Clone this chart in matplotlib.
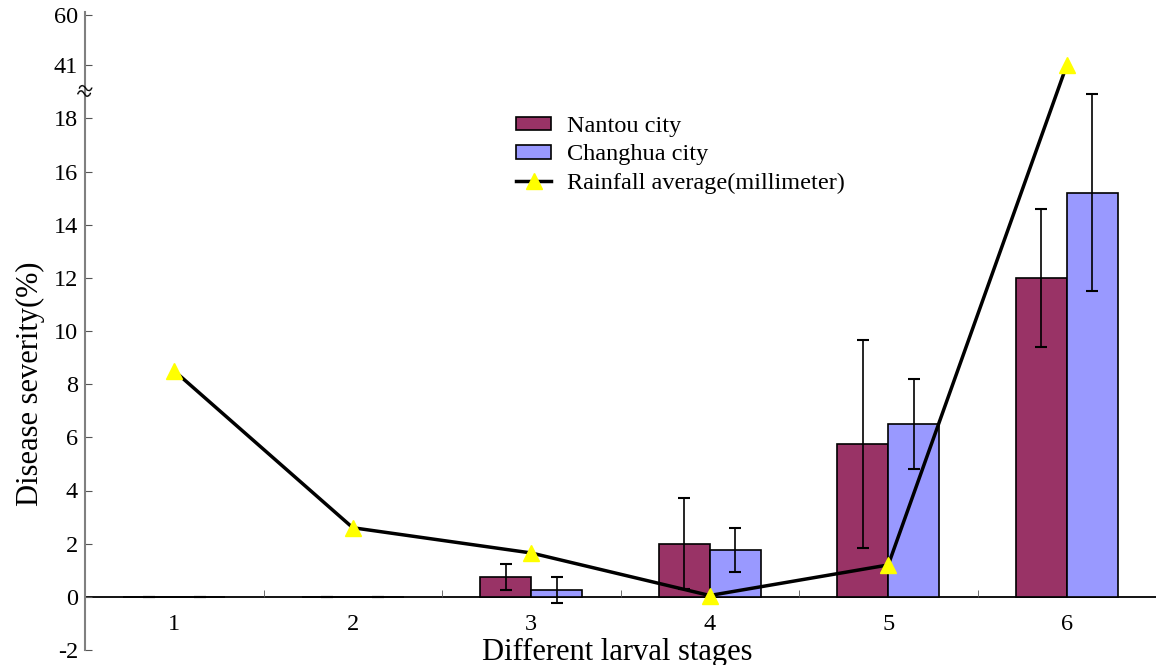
import matplotlib
matplotlib.use("Agg")
import matplotlib.pyplot as plt
import numpy as np

plt.rcParams['font.family'] = ['Liberation Serif', 'DejaVu Serif']

stages = [1, 2, 3, 4, 5, 6]
nantou = [0, 0, 0.75, 2.0, 5.75, 12.0]
nantou_err = [0, 0, 0.5, 1.7, 3.9, 2.6]
changhua = [0, 0, 0.25, 1.75, 6.5, 15.2]
changhua_err = [0, 0, 0.5, 0.83, 1.7, 3.7]
rainfall = [8.5, 2.6, 1.65, 0.05, 1.2, 41]

low_ticks = [-2, 0, 2, 4, 6, 8, 10, 12, 14, 16, 18]
high_ticks = [41, 60]


def broken(v):
    # squeeze values above the break into the top of the axis
    v = np.asarray(v, dtype=float)
    return np.where(v > 19, 20 + (v - 41) * 1.9 / 19, v)


fig = plt.figure(figsize=(11.56, 6.65), dpi=100)
ax = fig.add_axes([85 / 1156, 15 / 665, 1 - 85 / 1156, 638 / 665])

x = np.array(stages)
w = 0.286
ax.bar(x - w / 2, nantou, w, color='#993366', edgecolor='black', linewidth=1.2,
       label='Nantou city', zorder=2)
ax.bar(x + w / 2, changhua, w, color='#9999ff', edgecolor='black', linewidth=1.2,
       label='Changhua city', zorder=2)
ax.errorbar(x - w / 2, nantou, yerr=nantou_err, fmt='none', ecolor='black',
            elinewidth=1.2, capsize=4, capthick=1.5, zorder=3)
ax.errorbar(x + w / 2, changhua, yerr=changhua_err, fmt='none', ecolor='black',
            elinewidth=1.2, capsize=4, capthick=1.5, zorder=3)

ax.plot(x, broken(rainfall), color='black', linewidth=2.5, marker='^',
        markersize=11, markerfacecolor='yellow', markeredgecolor='yellow',
        label='Rainfall average(millimeter)', zorder=4)

ax.set_xlim(0.5, 6.5)
ax.set_ylim(-2, 22)

ax.set_xticks(stages)
ax.set_xticks([1.5, 2.5, 3.5, 4.5, 5.5], minor=True)
ax.tick_params(axis='x', which='major', length=0, pad=12, labelsize=17.5)
ax.tick_params(axis='x', which='minor', direction='in', length=5, color='#555555')

yt = list(low_ticks) + list(broken(high_ticks))
ax.set_yticks(yt)
ax.set_yticklabels([str(t) for t in low_ticks] + [str(t) for t in high_ticks])
ax.tick_params(axis='y', direction='in', length=5, labelsize=17.5, pad=5,
               color='#555555')

for s in ['top', 'right']:
    ax.spines[s].set_visible(False)
ax.spines['left'].set_color('#808080')
ax.spines['left'].set_linewidth(1.5)
ax.spines['bottom'].set_position(('data', 0))
ax.spines['bottom'].set_linewidth(1.3)
ax.spines['bottom'].set_zorder(1)

# break mark on the y axis
ax.text(0.49, 18.95, '≈', fontsize=20, ha='center', va='center', rotation=-15,
        clip_on=False, zorder=5)

ax.set_xlabel('Different larval stages', fontsize=22)
ax.xaxis.set_label_coords(0.497, 0.019)
ax.set_ylabel('Disease severity(%)', fontsize=22)
ax.yaxis.set_label_coords(-0.037, 0.418)

handles, labels = ax.get_legend_handles_labels()
order = [1, 2, 0]
ax.legend([handles[i] for i in order], [labels[i] for i in order],
          loc='upper left', bbox_to_anchor=(504 / 1156, 1 - 104 / 665),
          bbox_transform=fig.transFigure, frameon=False, fontsize=17.5,
          handlelength=1.45, handleheight=0.5, handletextpad=0.65,
          labelspacing=0.3, borderpad=0)

fig.savefig('out.png', dpi=100)
